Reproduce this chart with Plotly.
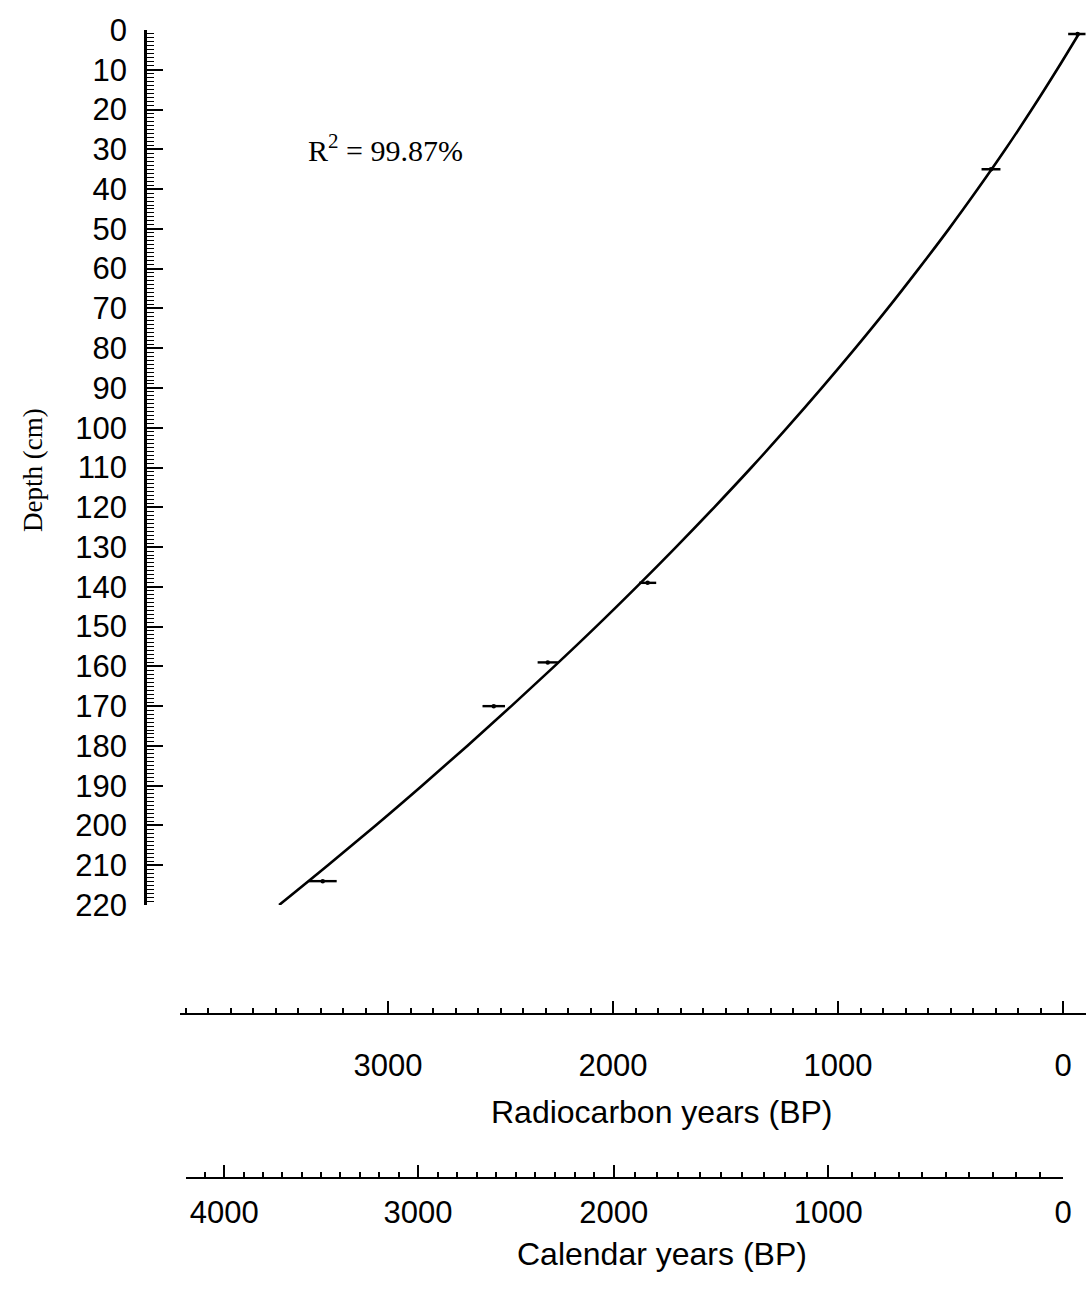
import numpy as np
import plotly.graph_objects as go

W, H = 1088, 1294

# ---- data ----
# fitted age-depth curve (depth cm, radiocarbon years BP)
depth_curve = [1, 10, 20, 30, 40, 50, 60, 70, 80, 90, 100, 110, 120, 130,
               140, 150, 160, 170, 180, 190, 200, 210, 220]
age_curve = [-70, 27, 139, 256, 379, 507, 641, 779, 923, 1072, 1226, 1385,
             1550, 1720, 1895, 2075, 2261, 2452, 2648, 2849, 3055, 3267, 3484]

# dated samples with 1-sigma errors
sample_depth = [1, 35, 139, 159, 170, 214]
sample_age = [-65, 320, 1846, 2290, 2530, 3290]
sample_err = [42, 42, 38, 45, 50, 62]

# calendar-axis calibration: calendar years and their radiocarbon-scale position
cal_ref = [0, 1000, 2000, 3000, 4000, 4200]
rc_ref = [0, 1043, 1997, 2867, 3728, 3900]
cal_labels = ["0", "1000", "2000", "3000", "4000"]

rc_ticks = [0, 1000, 2000, 3000]
depth_ticks = list(range(0, 221, 10))
r2_text = "R<sup>2</sup> = 99.87%"

# ---- geometry helpers ----
def px(x):
    return x / W

def py(y):
    return 1 - y / H

X0 = 1063.0      # pixel of 0 years
SPP = 0.225      # pixels per year
YAX = 147.0      # pixel of depth axis
rc_right = -100
main_left = (X0 - YAX) / SPP
rc_left = 3925
cal_left = rc_ref[-1]

def xdom(left_rc, right_rc):
    return [px(X0 - left_rc * SPP), px(X0 - right_rc * SPP)]

cal_major_pos = [float(np.interp(c, cal_ref, rc_ref)) for c in [0, 1000, 2000, 3000, 4000]]
cal_minor_pos = [float(np.interp(c, cal_ref, rc_ref)) for c in range(0, 4201, 100)]

sans = "Arial, Liberation Sans, sans-serif"
serif = "Times New Roman, Liberation Serif, serif"
tick_font = dict(family=sans, size=31, color="black")

fig = go.Figure()

fig.add_trace(go.Scatter(
    x=age_curve, y=depth_curve, mode="lines",
    line=dict(color="black", width=2.6, shape="spline"),
    xaxis="x", yaxis="y", showlegend=False, hoverinfo="skip"))

fig.add_trace(go.Scatter(
    x=sample_age, y=sample_depth, mode="markers",
    marker=dict(color="black", size=4.5),
    error_x=dict(type="data", array=sample_err, color="black", thickness=2.4, width=0),
    xaxis="x", yaxis="y", showlegend=False, hoverinfo="skip"))

# invisible traces so the two year axes get subplots
fig.add_trace(go.Scatter(x=rc_ticks, y=[None] * len(rc_ticks), mode="markers",
                         marker=dict(opacity=0), xaxis="x2", yaxis="y",
                         showlegend=False, hoverinfo="skip"))
fig.add_trace(go.Scatter(x=cal_major_pos, y=[None] * len(cal_major_pos), mode="markers",
                         marker=dict(opacity=0), xaxis="x3", yaxis="y",
                         showlegend=False, hoverinfo="skip"))

fig.update_layout(
    width=W, height=H, autosize=False,
    margin=dict(l=0, r=0, t=0, b=0, pad=0),
    paper_bgcolor="white", plot_bgcolor="rgba(0,0,0,0)",
    showlegend=False,
    xaxis=dict(
        domain=xdom(main_left, rc_right), range=[main_left, rc_right],
        anchor="y", visible=False, automargin=False, fixedrange=True,
    ),
    xaxis2=dict(
        domain=xdom(rc_left, rc_right), range=[rc_left, rc_right], anchor="free",
        position=py(1014), automargin=False,
        showline=True, linecolor="black", linewidth=2,
        showgrid=False, zeroline=False,
        ticks="inside", ticklen=12, tickwidth=2, tickcolor="black",
        tickmode="array", tickvals=rc_ticks, ticktext=[str(v) for v in rc_ticks],
        tickfont=tick_font, ticklabelstandoff=24,
        minor=dict(ticks="inside", dtick=100, tick0=0, ticklen=5,
                   tickwidth=1.6, tickcolor="black", showgrid=False),
    ),
    xaxis3=dict(
        domain=xdom(cal_left, 0), range=[cal_left, 0], anchor="free",
        position=py(1178), automargin=False,
        showline=True, linecolor="black", linewidth=2,
        showgrid=False, zeroline=False,
        ticks="inside", ticklen=12, tickwidth=2, tickcolor="black",
        tickmode="array", tickvals=cal_major_pos, ticktext=cal_labels,
        tickfont=tick_font, ticklabelstandoff=7,
        minor=dict(ticks="inside", tickmode="array", tickvals=cal_minor_pos,
                   ticklen=5, tickwidth=1.6, tickcolor="black", showgrid=False),
    ),
    yaxis=dict(
        domain=[py(905), py(30)], range=[220, 0], anchor="x", side="left",
        automargin=False,
        showline=True, linecolor="black", linewidth=2.5,
        showgrid=False, zeroline=False,
        ticks="inside", ticklen=16, tickwidth=2, tickcolor="black",
        tickmode="array", tickvals=depth_ticks,
        ticktext=[str(v) for v in depth_ticks],
        tickfont=tick_font, ticklabelstandoff=11,
        minor=dict(ticks="inside", dtick=1, tick0=0, ticklen=7,
                   tickwidth=1.3, tickcolor="black", showgrid=False),
    ),
    annotations=[
        dict(text="Depth (cm)", x=px(33), y=py(470), xref="paper", yref="paper",
             xanchor="center", yanchor="middle",
             showarrow=False, textangle=-90,
             font=dict(family=serif, size=27, color="black")),
        dict(text=r2_text, x=px(306), y=py(148), xref="paper", yref="paper",
             xanchor="left", yanchor="middle", showarrow=False,
             font=dict(family=serif, size=30, color="black")),
        dict(text="Radiocarbon years (BP)", x=px(661), y=py(1112),
             xref="paper", yref="paper", xanchor="center", yanchor="middle",
             showarrow=False,
             font=dict(family=sans, size=32, color="black")),
        dict(text="Calendar years (BP)", x=px(662), y=py(1254),
             xref="paper", yref="paper", xanchor="center", yanchor="middle",
             showarrow=False,
             font=dict(family=sans, size=32, color="black")),
    ],
)

fig.write_html("out.html")
